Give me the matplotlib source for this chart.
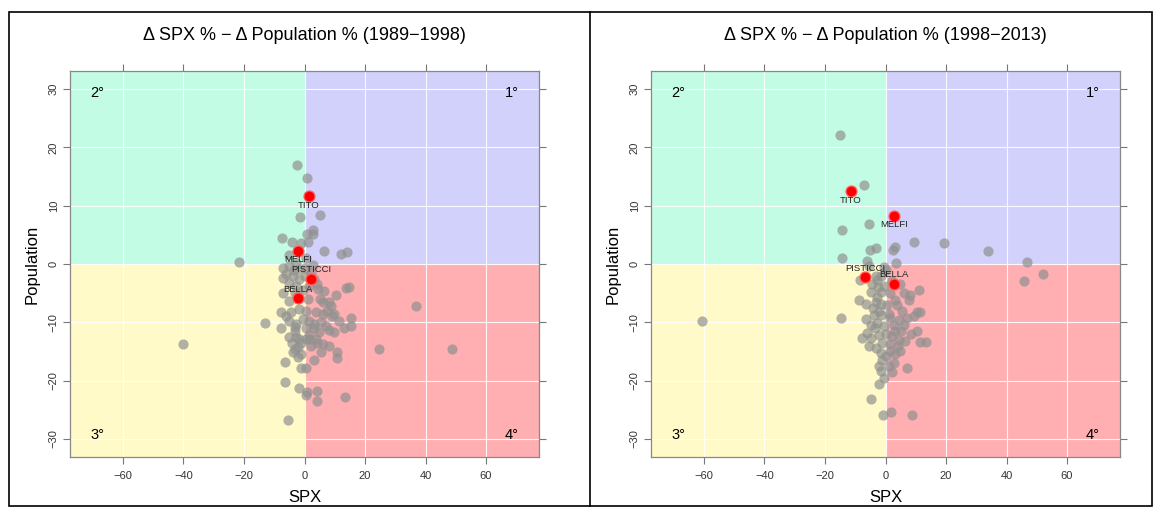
import matplotlib.pyplot as plt
from matplotlib.patches import Rectangle
from matplotlib.lines import Line2D

plt.rcParams['font.family'] = ['Liberation Sans', 'DejaVu Sans']

# Data: % change of SPX vs % change of population, one point per municipality
x_8998 = [-2.6, 0.7, 5.2, -1.6, 2.9, 2.7, 0.7, -7.3, -4.2, -1.1, 1.1, 6.3, 12.0, 14.1,
          -21.5, -7.2, -5.0, -2.8, -1.7, 0.3, 2.7, -6.1, -3.9, -1.7, -5.0, -2.8, -7.2,
          4.3, 6.5, 10.4, 13.7, 14.8, 1.6, -0.4, -5.0, -7.7, -4.4, -1.7, 0.5, 3.8, 6.0,
          8.7, 9.8, 6.0, 8.2, -13.2, -7.7, -5.0, -2.8, -3.3, -0.6, 1.6, 3.2, 5.4, 7.1,
          11.5, 15.3, 15.3, 9.8, 8.2, 4.9, 1.6, 0.5, -1.7, -2.8, 3.8, -3.0, -3.9, -2.2,
          -1.1, 1.6, 6.0, 5.4, 10.9, 10.9, -6.6, -1.1, 0.5, -6.3, -1.9, 0.7, 4.0, 0.5,
          4.2, 13.3, -5.3, -40.0, 36.9, 48.7, 24.6,
          -6.0, -3.0, 0.5, 3.0, -1.0, 2.0, 4.0, 7.5, 5.0, 1.0, -3.0, 9.0, 13.0, -5.0,
          -2.0, 3.0, 8.0, -4.0, 0.0, -2.0, 3.0, -5.0, 0.5, -7.0, 4.0, -3.5, 2.0]
y_8998 = [17.0, 14.7, 8.4, 8.0, 5.9, 5.1, 5.1, 4.5, 3.7, 3.6, 3.8, 2.3, 1.8, 2.0,
          0.4, -0.7, -0.4, 0.1, -0.9, -0.7, -0.1, -1.8, -2.1, -2.6, -3.2, -3.7, -2.4,
          -4.3, -4.6, -5.4, -4.1, -3.9, -3.8, -4.5, -6.3, -8.3, -8.3, -7.7, -8.0, -8.3, -8.6,
          -7.2, -8.6, -6.6, -6.6, -10.2, -11.0, -9.7, -10.3, -10.8, -9.4, -9.7, -10.3, -10.0, -10.6,
          -9.7, -9.3, -10.6, -11.7, -11.4, -11.7, -12.8, -12.8, -12.8, -12.5, -12.8, -14.5, -15.1, -14.2,
          -15.4, -12.2, -13.7, -15.1, -15.1, -16.1, -16.8, -17.8, -17.8, -20.2, -21.2, -21.9, -21.7, -22.5,
          -23.5, -22.8, -26.8, -13.7, -7.2, -14.6, -14.5,
          -9.0, -11.5, -11.0, -11.0, -13.5, -14.0, -13.5, -8.0, -6.0, -6.0, -5.0, -9.0, -11.0, -12.5,
          -16.0, -16.5, -14.0, -13.5, -2.0, -5.5, -2.5, 1.5, 1.0, -5.0, -3.5, -1.0, -1.5]

x_9813 = [-15.0, -7.1, -5.5, -14.5, -3.3, -5.2, 3.3, 2.5, 9.5, 19.2, -14.5, -6.0, 3.6, -5.5,
          -1.6, 0.0, -2.7, -4.4, -0.5, 4.9, 11.0, -4.9, -1.6, -2.7, -8.8, -6.6, -3.3, -1.6,
          0.5, 3.3, 3.8, 7.7, 8.2, 10.4, 11.5, 9.3, 7.1, 4.4, 1.6, -1.6, -3.8, -4.9, -2.7,
          -0.5, 2.7, 6.0, 10.4, -6.0, -7.7, -4.9, -2.2, 2.2, 4.4, 6.6, 11.5, 13.5, 1.6,
          -5.5, -3.3, -1.6, 0.0, 1.6, 3.3, 4.9, -2.2, 2.7, 7.1, 2.2, -1.6, -2.1, -4.7,
          -0.9, 1.9, 8.7, -14.6, -60.5, 33.8, 46.9, 51.9, 45.8, -8.4, -3.3,
          -2.0, 1.0, 5.5, -4.0, 0.0, 3.0, -1.0, 5.0, 8.5, -3.5, -1.0, 1.0, -2.5, 1.5,
          6.0, -6.5, 2.0, -0.5, 4.0, -0.5]
y_9813 = [22.1, 13.6, 6.9, 5.9, 2.8, 2.4, 2.9, 2.4, 3.8, 3.6, 1.0, 0.6, 0.2, -0.3,
          -2.0, -1.1, -2.8, -3.4, -3.7, -3.4, -4.5, -4.8, -4.8, -5.6, -6.2, -6.8, -6.5, -6.8,
          -7.1, -6.2, -7.1, -6.2, -5.4, -8.3, -8.2, -9.0, -9.3, -9.6, -9.3, -8.8, -8.8, -10.5, -10.2,
          -10.7, -10.5, -10.5, -11.5, -11.9, -12.7, -12.7, -12.1, -12.4, -13.0, -13.2, -13.3, -13.3, -13.8,
          -14.1, -14.4, -15.3, -15.8, -15.0, -15.5, -15.0, -17.5, -16.9, -17.8, -18.6, -18.4, -20.5, -23.1,
          -25.9, -25.4, -25.9, -9.2, -9.8, 2.2, 0.3, -1.8, -2.9, -2.8, -2.0,
          -8.0, -8.5, -8.0, -7.5, -12.0, -11.5, -13.5, -11.5, -12.0, -11.0, -16.5, -17.5, -4.0, -5.0,
          -5.0, -9.5, -3.0, -0.5, -14.0, -19.5]

towns = ['TITO', 'MELFI', 'PISTICCI', 'BELLA']
towns_x_8998 = [1.4, -2.2, 2.2, -2.2]
towns_y_8998 = [11.6, 2.3, -2.5, -5.9]
towns_x_9813 = [-11.5, 2.7, -6.8, 2.7]
towns_y_9813 = [12.5, 8.3, -2.3, -3.4]
label_side = ['below', 'below', 'above', 'above']

quad_colors = {'1°': '#d1d1fb', '2°': '#c2fce4', '3°': '#fffac7', '4°': '#ffafb1'}


def draw_panel(ax, xs, ys, tx, ty, title):
    ax.set_xlim(-77.5, 77.5)
    ax.set_ylim(-33.1, 33.1)
    # quadrant backgrounds
    ax.add_patch(Rectangle((0, 0), 100, 100, color=quad_colors['1°'], zorder=0, lw=0))
    ax.add_patch(Rectangle((-100, 0), 100, 100, color=quad_colors['2°'], zorder=0, lw=0))
    ax.add_patch(Rectangle((-100, -100), 100, 100, color=quad_colors['3°'], zorder=0, lw=0))
    ax.add_patch(Rectangle((0, -100), 100, 100, color=quad_colors['4°'], zorder=0, lw=0))

    ax.set_xticks([-60, -40, -20, 0, 20, 40, 60])
    ax.set_yticks([-30, -20, -10, 0, 10, 20, 30])
    ax.grid(True, color='white', lw=0.8, alpha=0.9, zorder=1)
    ax.set_axisbelow(True)

    ax.scatter(xs, ys, s=54, color='#919191', alpha=0.7, lw=0, zorder=3)
    ax.scatter(tx, ty, s=62, color='#ff0000', edgecolor='#ff6060', lw=0.9, zorder=4)
    for name, px, py, side in zip(towns, tx, ty, label_side):
        off = -6.5 if side == 'below' else 6.5
        ax.annotate(name, (px, py), xytext=(0, off), textcoords='offset points',
                    ha='center', va='center', fontsize=6.8, color='#222222', zorder=5)

    ax.text(-68.5, 29.3, '2°', fontsize=10.5, ha='center', va='center', zorder=5)
    ax.text(68.5, 29.3, '1°', fontsize=10.5, ha='center', va='center', zorder=5)
    ax.text(-68.5, -29.3, '3°', fontsize=10.5, ha='center', va='center', zorder=5)
    ax.text(68.5, -29.3, '4°', fontsize=10.5, ha='center', va='center', zorder=5)

    for sp in ax.spines.values():
        sp.set_color('#888888')
        sp.set_linewidth(0.9)
    ax.tick_params(top=True, right=True, labeltop=False, labelright=False,
                   direction='out', length=5, width=0.8, color='#777777',
                   labelsize=8, labelcolor='#333333')
    ax.tick_params(axis='x', pad=5)
    ax.tick_params(axis='y', labelrotation=90, pad=3)
    for lab in ax.get_yticklabels():
        lab.set_va('center')

    ax.set_xlabel('SPX', fontsize=12)
    ax.xaxis.set_label_coords(0.5, -0.104)
    ax.xaxis.label.set_va('center')
    ax.set_ylabel('Population', fontsize=12)
    ax.yaxis.set_label_coords(-0.081, 0.5)
    ax.yaxis.label.set_va('center')
    ax.text(0.5, 1.093, title, transform=ax.transAxes, ha='center', va='center', fontsize=13)


fig = plt.figure(figsize=(11.6, 5.12), dpi=100)
ax1 = fig.add_axes([70 / 1160, 1 - 457 / 512, 469 / 1160, 386 / 512])
ax2 = fig.add_axes([651 / 1160, 1 - 457 / 512, 469 / 1160, 386 / 512])

draw_panel(ax1, x_8998, y_8998, towns_x_8998, towns_y_8998,
           'Δ SPX % − Δ Population % (1989−1998)')
draw_panel(ax2, x_9813, y_9813, towns_x_9813, towns_y_9813,
           'Δ SPX % − Δ Population % (1998−2013)')

# panel frames
fig.add_artist(Rectangle((9 / 1160, 1 - 506 / 512), 1143 / 1160, 494 / 512,
                         transform=fig.transFigure, fill=False, ec='black', lw=1.2))
fig.add_artist(Line2D([590 / 1160, 590 / 1160], [1 - 506 / 512, 1 - 12 / 512],
                      transform=fig.transFigure, color='black', lw=1.2))

fig.savefig('out.png', dpi=100)
